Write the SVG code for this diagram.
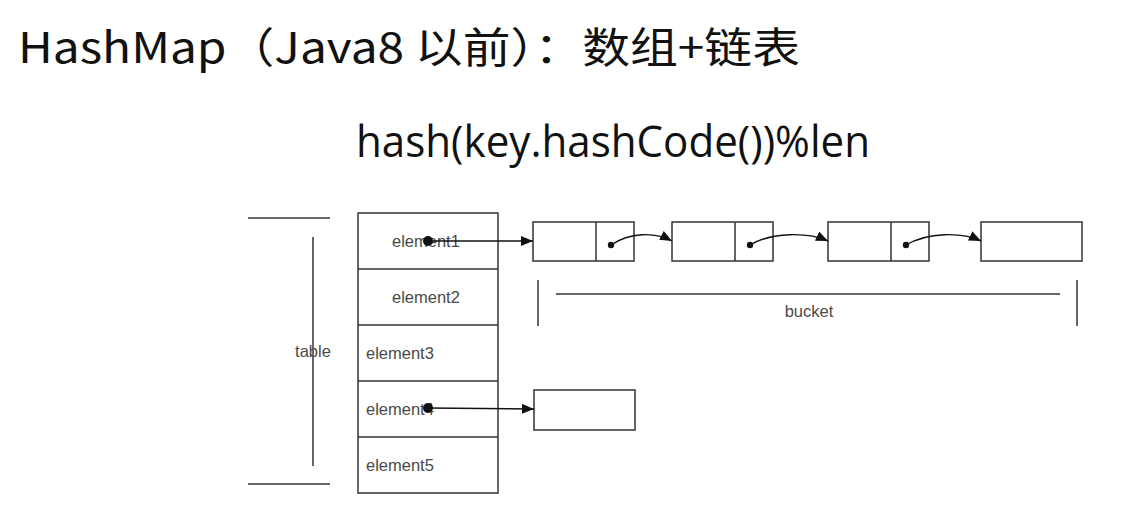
<svg xmlns="http://www.w3.org/2000/svg" width="1130" height="508" viewBox="0 0 1130 508">
<defs>
<marker id="ah" viewBox="0 0 12 10" refX="12" refY="5" markerWidth="12" markerHeight="10" markerUnits="userSpaceOnUse" orient="auto">
<path d="M0,0 L12,5 L0,10 z" fill="#111"/>
</marker>
<style>
.box{fill:#fff;stroke:#333;stroke-width:1.5}
.ln{stroke:#333;stroke-width:1.5;fill:none}
.lbl{font-family:"Liberation Sans",Arial,sans-serif;font-size:16.5px;fill:#4a4a4a}
.edge{stroke:#111;stroke-width:1.4;fill:none;marker-end:url(#ah)}
.dot{fill:#111}
</style>
</defs>
<rect width="1130" height="508" fill="#fff"/>
<g id="title">
<text x="18" y="63" font-family="'Noto Sans CJK SC','Noto Sans',sans-serif" font-size="42" fill="#111" textLength="782" lengthAdjust="spacingAndGlyphs">HashMap（Java8 以前）：数组+链表</text>
</g>
<g id="formula">
<text x="356" y="157" font-family="'Open Sans','Noto Sans',sans-serif" font-size="44" fill="#111" textLength="514" lengthAdjust="spacingAndGlyphs">hash(key.hashCode())%len</text>
</g>
<g id="table-bracket">
<line class="ln" x1="248" y1="218" x2="330" y2="218"/>
<line class="ln" x1="248" y1="484" x2="330" y2="484"/>
<line class="ln" x1="313" y1="237" x2="313" y2="466"/>
<text class="lbl" x="313" y="357" text-anchor="middle">table</text>
</g>
<g id="table">
<rect class="box" x="358" y="213" width="140" height="280"/>
<line class="ln" x1="358" y1="269" x2="498" y2="269"/>
<line class="ln" x1="358" y1="325" x2="498" y2="325"/>
<line class="ln" x1="358" y1="381" x2="498" y2="381"/>
<line class="ln" x1="358" y1="437" x2="498" y2="437"/>
<text class="lbl" x="392" y="247">element1</text>
<text class="lbl" x="392" y="303">element2</text>
<text class="lbl" x="366" y="359">element3</text>
<text class="lbl" x="366" y="415">element4</text>
<text class="lbl" x="366" y="471">element5</text>
</g>
<g id="node1">
<rect class="box" x="533" y="222" width="101" height="39"/>
<line class="ln" x1="596" y1="222" x2="596" y2="261"/>
</g>
<g id="node2">
<rect class="box" x="672" y="222" width="101" height="39"/>
<line class="ln" x1="735" y1="222" x2="735" y2="261"/>
</g>
<g id="node3">
<rect class="box" x="828" y="222" width="101" height="39"/>
<line class="ln" x1="891" y1="222" x2="891" y2="261"/>
</g>
<g id="node4">
<rect class="box" x="981" y="222" width="101" height="39"/>
</g>
<g id="node5">
<rect class="box" x="534" y="390" width="101" height="40"/>
</g>
<g id="bucket">
<line class="ln" x1="538" y1="280" x2="538" y2="326"/>
<line class="ln" x1="1077" y1="280" x2="1077" y2="326"/>
<line class="ln" x1="556" y1="294" x2="1060" y2="294"/>
<text class="lbl" x="809" y="317" text-anchor="middle">bucket</text>
</g>
<g id="connectors">
<circle class="dot" cx="428" cy="241" r="5"/>
<line class="edge" x1="428" y1="241" x2="533" y2="241"/>
<circle class="dot" cx="428" cy="408" r="5"/>
<line class="edge" x1="428" y1="408" x2="534" y2="409"/>
<circle class="dot" cx="611" cy="245" r="3.2"/>
<path class="edge" d="M611,245 C630,232 655,232 672,241"/>
<circle class="dot" cx="750" cy="245" r="3.2"/>
<path class="edge" d="M750,245 C772,232 808,232 828,241"/>
<circle class="dot" cx="906" cy="245" r="3.2"/>
<path class="edge" d="M906,245 C928,232 962,232 981,241"/>
</g>
</svg>
